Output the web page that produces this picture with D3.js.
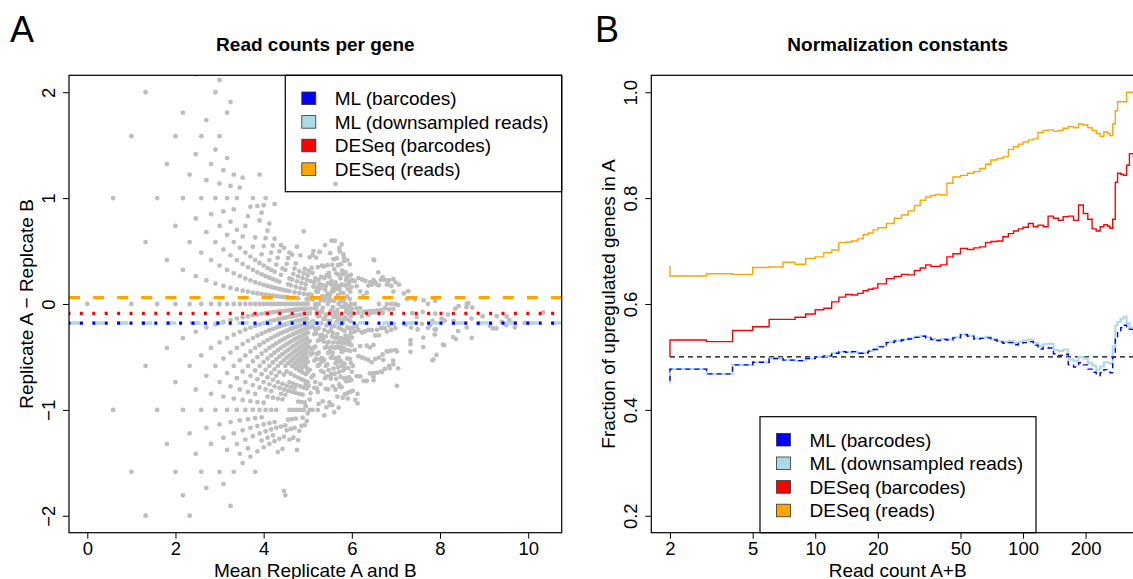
<!DOCTYPE html>
<html lang="en">
<head>
<meta charset="UTF-8"/>
<title>Read counts per gene / Normalization constants</title>
<script src="https://d3js.org/d3.v7.min.js"></script>
<style>
  body { margin: 0; background: #ffffff; }
  svg { display: block; }
</style>
</head>
<body>
<script>
// ---------- Panel A data ----------
// genes listed by total reads: [reads A+B, [reads in A of each gene with that total]]
var genesByTotal = [
  [2,[1]], [3,[1,2]], [4,[1,2,3]], [5,[1,2,3,4]], [6,[2,3,4]], [7,[2,3,4,5]],
  [8,[2,3,4,5,6]], [9,[2,3,4,5,6,7]], [10,[2,3,4,5,6,7]], [11,[3,4,5,6,7,8,9]],
  [12,[3,4,5,6,7,8,9]], [13,[3,4,5,6,7,8,9,10]], [14,[4,5,6,7,8,9,10]],
  [15,[5,6,7,8,9,10,11,12]], [16,[4,5,6,7,8,9,10,11,12,13]], [17,[4,5,6,7,8,9,10,11,12]],
  [18,[5,6,7,8,9,10,11,12,13,14]], [19,[4,6,7,8,9,10,11,12,13,15]], [20,[5,6,7,8,9,10,11,12,13,14]],
  [21,[6,7,8,9,10,11,12,13,14]], [22,[6,7,8,9,10,11,12,13,15]], [23,[6,7,8,9,10,11,12,13,14,16]],
  [24,[7,8,9,10,11,12,13,14,15]], [25,[7,8,9,10,11,12,13,14,16]], [26,[7,8,9,10,11,12,13,14,15,17]],
  [27,[8,9,10,11,12,13,14,15,16,18]], [28,[7,9,10,11,12,13,14,15,16,17]], [29,[8,9,10,11,12,13,14,15,16,19]],
  [30,[9,10,11,12,13,14,15,16,17,19,21]], [31,[9,10,12,13,14,15,16,17,18,20]],
  [32,[9,10,11,12,13,14,15,16,17,18,19,21]], [33,[10,11,12,13,14,15,16,17,18,20,22]],
  [34,[10,12,13,14,15,16,17,18,19,21]], [35,[10,11,13,14,15,16,17,18,19,20,22]],
  [36,[11,12,13,14,15,16,17,18,19,20,21]], [37,[11,13,14,15,16,17,18,19,20,22]],
  [38,[11,12,14,15,16,17,18,19,20,21,23,25]], [39,[12,13,15,16,17,18,19,20,21,22]],
  [40,[11,14,15,16,17,18,19,20,21,23]], [41,[12,15,16,17,18,19,20,21,22,24]],
  [42,[13,15,17,18,19,20,21,22,23,25]], [43,[12,15,16,18,19,20,21,22,24]],
  [44,[10,13,16,17,18,19,20,21,22,23,26]], [45,[10,14,16,18,19,20,21,22,23,25]],
  [46,[14,17,18,19,20,21,22,23,24,26]], [47,[15,17,19,20,21,22,23,24,25,27]],
  [48,[14,16,18,20,21,22,23,24,25,26,28]], [49,[15,18,19,20,21,22,23,24,26]],
  [50,[16,18,20,21,22,23,24,25,27,29]], [51,[15,17,19,21,22,23,24,25,26,28]],
  [52,[16,19,20,21,22,23,24,25,26,27,29]], [53,[17,19,21,22,23,24,25,26,28,30]],
  [54,[15,18,20,22,23,24,25,26,27,29,32]], [55,[16,19,21,22,23,24,25,26,27,28,30]],
  [56,[17,20,22,23,24,25,26,27,28,29,31]], [57,[19,21,23,24,25,26,27,28,30,33]],
  [58,[18,20,22,23,24,25,26,27,28,29,31]], [59,[19,21,23,24,25,26,27,28,29,32]],
  [60,[20,22,24,25,26,27,28,29,30,31,33,37]], [61,[19,21,23,25,26,27,28,29,30,32,34]],
  [62,[21,23,24,25,26,27,28,29,30,31,33]], [63,[20,23,25,26,27,28,29,30,31,32,34]],
  [64,[21,24,25,26,27,28,29,30,31,32,33,35]],
  [65,[24,28,30,33,36]], [66,[26,29,32,34,38]], [67,[24,28,31,33,36]], [68,[26,29,32,35,38]],
  [69,[23,29,32,35,38]], [70,[27,30,33,37,41]], [71,[26,29,32,35,38]], [72,[27,31,33,36,39]],
  [73,[30,33,36,38,42]], [74,[27,31,34,36,39]], [75,[30,33,36,39,42]], [76,[26,32,35,38,41]],
  [77,[31,34,37,41,45]], [78,[29,32,35,38,41]], [79,[31,35,37,40,43]], [80,[33,36,39,41,45]],
  [81,[28,33,36,40,43]], [82,[32,36,39,42,46]], [83,[27,34,38,42,45]], [84,[32,36,40,44,50]],
  [85,[31,34,38,41,45]], [86,[33,37,40,44,47]], [87,[35,38,42,45,49]], [88,[32,37,40,44,47]],
  [89,[35,39,42,45,49]], [90,[31,38,42,46,49]], [91,[35,39,43,47,53]], [92,[35,38,42,45,49]],
  [93,[36,40,43,47,50]], [94,[39,42,46,49,53]], [95,[35,40,43,47,50]], [96,[38,42,46,50,55]],
  [97,[32,40,45,49,54]], [98,[38,42,47,52,59]], [99,[36,40,44,48,53]], [100,[38,43,47,51,55]],
  [101,[41,45,49,53,58]], [102,[36,42,46,50,54]], [103,[41,45,49,53,58]], [104,[35,43,48,52,57]],
  [105,[41,45,50,55,62]], [106,[39,43,47,51,56]], [107,[41,46,50,54,58]], [108,[44,48,52,56,61]],
  [109,[40,46,50,54,58]], [110,[44,48,52,56,61]], [111,[39,47,52,56,61]], [112,[44,48,53,58,65]],
  [113,[43,50,56,62]], [114,[46,52,58,65]], [115,[41,49,55,61]], [116,[46,52,58,64]],
  [117,[44,51,57,63]], [118,[45,52,58,64]], [119,[49,55,61,68]], [120,[43,51,57,63]],
  [121,[48,54,60,66]], [122,[46,53,59,65]], [123,[47,54,60,66]], [124,[51,57,63,70]],
  [125,[45,53,59,65]], [126,[51,57,63,69]], [127,[48,55,61,67]], [128,[50,57,63,69]],
  [130,[52,60,63,70]], [134,[57,61,67,72]], [138,[53,64,68,73]], [142,[59,65,69,77]],
  [146,[56,63,72,76]], [150,[62,68,72,81]], [154,[58,70,75,79]], [158,[65,72,77,85]],
  [162,[61,70,79,84]], [166,[68,76,80,88]], [170,[66,73,83,91]], [175,[71,80,85,93]],
  [180,[68,78,88,97]], [185,[76,83,90,99]], [190,[74,87,93,101]], [196,[81,88,98,104]],
  [202,[79,93,99,109]], [208,[87,96,101,113]], [215,[85,99,106,116]], [222,[94,101,111,118]],
  [230,[92,107,113,124]], [238,[101,109,119,126]], [246,[99,115,121,133]], [254,[108,117,127,136]]
];

// further single genes: [reads A, reads B]
var genePairs = [
  [56,37],[68,31],[22,44],[25,50],[29,57],[32,62],[27,48],[50,90],[47,88],[42,78],[39,66],
  [40,29],[45,32],[62,44],[104,78],[69,111],[47,83],[48,92],[31,60],
  [23,43],[65,48],[65,44],[107,87],[103,77],[143,126],[162,149],[120,105],[128,118],[96,131],
  [100,145],[110,150],[92,140],[105,160],[86,124],[80,125],[70,110],[96,164],
  [212,212],[400,398],[375,468],[281,349],[233,304],[189,272],[169,224],[136,186],[140,182],[142,180],
  [216,255],[212,259],[759,859],[674,774],[636,715],[768,895],[1260,1332],[541,635],[572,671],[384,392],
  [390,390],[132,133],[291,366],[236,309],[202,282],[186,269],[175,218],[196,229],
  [150,140],[160,170],[150,175],[170,185],[165,195],[175,170],[140,160],[155,150],[180,205],[190,200],
  [200,195],[205,235],[215,240],[230,245],[220,260],[240,235],[250,275],
  [260,290],[280,300],[300,335],[320,330],[310,370],[340,345],
  [360,420],[400,440],[420,430],[440,500],[480,520],
  [520,600],[600,650],[700,760],[720,800],[910,1030]
];

// method names and their offset (Replicate A - Replicate B) in panel A
var methodNames = ["ML (barcodes)", "ML (downsampled reads)", "DESeq (barcodes)", "DESeq (reads)"];
var methodOffsets = [-0.18, -0.18, -0.088, 0.06];

// ---------- Panel B data ----------
var readCount = [2, 2, 3, 4, 5, 6, 7, 8, 9, 10, 11, 12, 13, 14, 15, 16, 17, 18, 19, 20,
  22, 24, 26, 28, 30, 32, 34, 36, 38, 40,
  43, 46, 50, 54, 58, 62, 66, 70, 75, 80, 85, 90, 95, 100,
  106, 112, 118, 125, 132, 140, 148, 156, 165, 175, 185, 195, 205, 215, 225, 235, 245, 255,
  262, 270, 278, 285, 295, 305, 315, 325, 340, 356];

var mlBarcodes = [0.455, 0.477, 0.468, 0.485, 0.490, 0.497, 0.494, 0.493, 0.497, 0.500, 0.502, 0.507, 0.510, 0.509, 0.510, 0.507, 0.508, 0.511, 0.514, 0.519,
  0.527, 0.530, 0.532, 0.534, 0.537, 0.539, 0.536, 0.533, 0.531, 0.533,
  0.532, 0.536, 0.542, 0.539, 0.534, 0.535, 0.536, 0.532, 0.528, 0.526, 0.527, 0.523, 0.525, 0.527,
  0.529, 0.522, 0.515, 0.518, 0.517, 0.506, 0.503, 0.505, 0.485, 0.481, 0.489, 0.485, 0.477, 0.471, 0.465, 0.470, 0.476, 0.474,
  0.470, 0.500, 0.538, 0.546, 0.555, 0.560, 0.556, 0.552, 0.550, 0.552];

var mlReads = [0.450, 0.477, 0.468, 0.485, 0.490, 0.497, 0.494, 0.493, 0.497, 0.500, 0.502, 0.507, 0.510, 0.509, 0.510, 0.507, 0.508, 0.511, 0.514, 0.520,
  0.528, 0.531, 0.533, 0.535, 0.538, 0.540, 0.537, 0.534, 0.532, 0.534,
  0.533, 0.537, 0.543, 0.540, 0.535, 0.536, 0.538, 0.534, 0.530, 0.528, 0.530, 0.526, 0.528, 0.531,
  0.533, 0.527, 0.521, 0.524, 0.525, 0.513, 0.511, 0.514, 0.495, 0.493, 0.500, 0.497, 0.489, 0.484, 0.476, 0.482, 0.490, 0.489,
  0.487, 0.520, 0.560, 0.566, 0.572, 0.576, 0.564, 0.555, 0.545, 0.548];

var deseqBarcodes = [0.500, 0.532, 0.529, 0.550, 0.557, 0.571, 0.571, 0.575, 0.581, 0.589, 0.592, 0.604, 0.613, 0.618, 0.617, 0.620, 0.625, 0.628, 0.630, 0.638,
  0.648, 0.652, 0.656, 0.655, 0.663, 0.668, 0.674, 0.671, 0.671, 0.674,
  0.689, 0.695, 0.705, 0.703, 0.706, 0.708, 0.716, 0.718, 0.719, 0.727, 0.733, 0.738, 0.742, 0.745,
  0.752, 0.746, 0.749, 0.746, 0.766, 0.762, 0.758, 0.765, 0.766, 0.758, 0.787, 0.771, 0.760, 0.742, 0.738, 0.746, 0.750, 0.747,
  0.743, 0.760, 0.830, 0.847, 0.845, 0.843, 0.862, 0.884, 0.878, 0.876];

var deseqReads = [0.672, 0.653, 0.657, 0.656, 0.669, 0.670, 0.679, 0.675, 0.686, 0.689, 0.697, 0.702, 0.716, 0.717, 0.719, 0.723, 0.731, 0.734, 0.740, 0.744,
  0.752, 0.762, 0.768, 0.776, 0.786, 0.796, 0.802, 0.805, 0.807, 0.806,
  0.828, 0.840, 0.843, 0.847, 0.850, 0.856, 0.864, 0.872, 0.875, 0.878, 0.892, 0.897, 0.902, 0.906,
  0.910, 0.912, 0.924, 0.928, 0.929, 0.926, 0.928, 0.932, 0.935, 0.933, 0.940, 0.938, 0.933, 0.928, 0.922, 0.917, 0.925, 0.922,
  0.918, 0.940, 0.965, 0.982, 0.982, 0.982, 1.000, 1.000, 1.000, 1.000];

var readCountTicks = [2, 5, 10, 20, 50, 100, 200];
var fractionTicks = [0.2, 0.4, 0.6, 0.8, 1.0];
var diffTicks = [-2, -1, 0, 1, 2];
var meanTicks = [0, 2, 4, 6, 8, 10];

// ---------- styles ----------
var w = 1133, h = 579;
var font = '"Liberation Sans", Arial, Helvetica, sans-serif';
var methodColors = ["#0000ff", "#add8e6", "#ff0000", "#ffa500"];
var pointColor = "#bebebe";

var svg = d3.select("body")
  .append("svg")
  .attr("width", w)
  .attr("height", h)
  .style("font-family", font);

// plot regions
var boxA = {left: 69, right: 561.7, top: 75.3, bottom: 532.7};
var boxB = {left: 651.3, right: 1144, top: 75.3, bottom: 532.7};

var xA = d3.scaleLinear().domain([-0.415, 10.76]).range([boxA.left, boxA.right]);
var yA = d3.scaleLinear().domain([-2.16, 2.16]).range([boxA.bottom, boxA.top]);
var xB = d3.scaleLog().domain([1.626, 382]).range([boxB.left, boxB.right]);
var yB = d3.scaleLinear().domain([0.168, 1.032]).range([boxB.bottom, boxB.top]);

function addClip(id, box) {
  svg.append("clipPath").attr("id", id)
    .append("rect")
    .attr("x", box.left).attr("y", box.top)
    .attr("width", box.right - box.left).attr("height", box.bottom - box.top);
}
addClip("clipA", boxA);
addClip("clipB", boxB);

// ---------- Panel A: points ----------
var genes = [];
genesByTotal.forEach(function(g) {
  g[1].forEach(function(a) { genes.push([a, g[0] - a]); });
});
genePairs.forEach(function(p) { genes.push(p); });

// x = log2 of mean count, y = log2 ratio A/B
svg.append("g")
  .attr("clip-path", "url(#clipA)")
  .selectAll("circle")
  .data(genes)
  .enter()
  .append("circle")
  .attr("cx", function(d) { return xA(Math.log2((d[0] + d[1]) / 2)); })
  .attr("cy", function(d) { return yA(Math.log2(d[0] / d[1])); })
  .attr("r", 2.4)
  .attr("fill", pointColor);

// horizontal lines for each method (light blue first so blue dots sit on top)
var lineStyle = [
  {dash: "3,9.4", width: 3.2, offset: 1.5},
  {dash: "11,13.1", width: 3.4, offset: 0},
  {dash: "3,9.4", width: 3.2, offset: 1.5},
  {dash: "11,13.1", width: 3.4, offset: 0}
];
[1, 0, 2, 3].forEach(function(i) {
  svg.append("line")
    .attr("clip-path", "url(#clipA)")
    .attr("x1", boxA.left).attr("x2", boxA.right)
    .attr("y1", yA(methodOffsets[i])).attr("y2", yA(methodOffsets[i]))
    .attr("stroke", methodColors[i])
    .attr("stroke-width", lineStyle[i].width)
    .attr("stroke-dasharray", lineStyle[i].dash)
    .attr("stroke-dashoffset", lineStyle[i].offset);
});

// ---------- Panel B: lines ----------
var stepLine = d3.line()
  .x(function(d) { return xB(d[0]); })
  .y(function(d) { return yB(d[1]); })
  .curve(d3.curveStepAfter);

function series(values) {
  return readCount.map(function(c, i) { return [c, values[i]]; });
}

var gB = svg.append("g").attr("clip-path", "url(#clipB)");

// reference line at 0.5
gB.append("line")
  .attr("x1", xB(2)).attr("x2", xB(readCount[readCount.length - 1]))
  .attr("y1", yB(0.5)).attr("y2", yB(0.5))
  .attr("stroke", "#000").attr("stroke-width", 1.2)
  .attr("stroke-dasharray", "5,4");

gB.append("path").datum(series(deseqReads))
  .attr("d", stepLine).attr("fill", "none")
  .attr("stroke", methodColors[3]).attr("stroke-width", 1.4);
gB.append("path").datum(series(deseqBarcodes))
  .attr("d", stepLine).attr("fill", "none")
  .attr("stroke", methodColors[2]).attr("stroke-width", 1.4);
gB.append("path").datum(series(mlReads))
  .attr("d", stepLine).attr("fill", "none")
  .attr("stroke", methodColors[1]).attr("stroke-width", 2);
gB.append("path").datum(series(mlBarcodes))
  .attr("d", stepLine).attr("fill", "none")
  .attr("stroke", methodColors[0]).attr("stroke-width", 1.4)
  .attr("stroke-dasharray", "5,4");

// ---------- axes and boxes ----------
function drawAxes(x, y, box, xTicks, yTicks, xFmt, yFmt) {
  var gx = svg.append("g")
    .attr("transform", "translate(0," + box.bottom + ")")
    .call(d3.axisBottom(x).tickValues(xTicks).tickFormat(xFmt).tickSize(6).tickPadding(3));
  var gy = svg.append("g")
    .attr("transform", "translate(" + box.left + ",0)")
    .call(d3.axisLeft(y).tickValues(yTicks).tickFormat(yFmt).tickSize(6));

  [gx, gy].forEach(function(g) {
    g.attr("font-family", font).attr("font-size", 18.5);
    g.select(".domain").remove();
    g.selectAll(".tick line").attr("stroke", "#000").attr("stroke-width", 1);
  });

  // y tick labels are written along the axis
  gy.selectAll(".tick text")
    .attr("x", 0).attr("y", -14.5).attr("dy", 0)
    .attr("transform", "rotate(-90)")
    .style("text-anchor", "middle");

  svg.append("rect")
    .attr("x", box.left).attr("y", box.top)
    .attr("width", box.right - box.left).attr("height", box.bottom - box.top)
    .attr("fill", "none").attr("stroke", "#000").attr("stroke-width", 1.2);
}

drawAxes(xA, yA, boxA, meanTicks, diffTicks, d3.format("d"), d3.format("d"));
drawAxes(xB, yB, boxB, readCountTicks, fractionTicks, d3.format("d"), d3.format(".1f"));

// ---------- legends ----------
function drawLegend(x0, y0, x1, y1) {
  var g = svg.append("g");
  g.append("rect")
    .attr("x", x0).attr("y", y0).attr("width", x1 - x0).attr("height", y1 - y0)
    .attr("fill", "none").attr("stroke", "#000").attr("stroke-width", 1.2);
  methodNames.forEach(function(name, i) {
    var cy = y0 + 23 + i * 23.6;
    g.append("rect")
      .attr("x", x0 + 16.5).attr("y", cy - 6.3)
      .attr("width", 14).attr("height", 12.6)
      .attr("fill", methodColors[i]).attr("stroke", "#333").attr("stroke-width", 0.8);
    g.append("text")
      .attr("x", x0 + 49.5).attr("y", cy + 6.8)
      .attr("font-size", 19)
      .text(name);
  });
}
drawLegend(285.3, boxA.top, boxA.right, 191.7);
drawLegend(760, 416.7, 1036, boxB.bottom);

// ---------- titles and labels ----------
function label(txt, x, y, size, opts) {
  opts = opts || {};
  var t = svg.append("text")
    .attr("font-size", size)
    .attr("text-anchor", opts.anchor || "middle")
    .attr("font-weight", opts.bold ? "bold" : "normal")
    .text(txt);
  if (opts.rotate) {
    t.attr("transform", "translate(" + x + "," + y + ") rotate(-90)");
  } else {
    t.attr("x", x).attr("y", y);
  }
  return t;
}

label("A", 10, 42, 36, {anchor: "start"});
label("B", 595, 42, 36, {anchor: "start"});
label("Read counts per gene", (boxA.left + boxA.right) / 2, 51, 19, {bold: true});
label("Normalization constants", 897.7, 51, 19, {bold: true});
label("Mean Replicate A and B", (boxA.left + boxA.right) / 2, 576.5, 19);
label("Read count A+B", 897.7, 576.5, 19);
label("Replicate A \u2212 Replcate B", 33, (boxA.top + boxA.bottom) / 2, 19, {rotate: true});
label("Fraction of upregulated genes in A", 615, (boxB.top + boxB.bottom) / 2, 19, {rotate: true});
</script>
</body>
</html>
